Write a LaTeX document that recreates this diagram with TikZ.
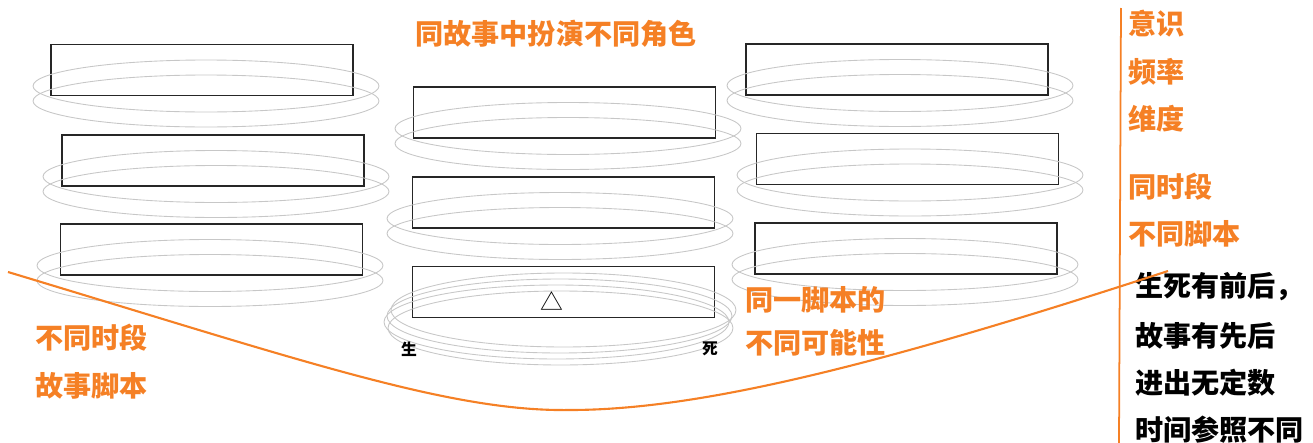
\documentclass[tikz,border=0pt]{standalone}
\usepackage{fontspec}
\usetikzlibrary{calc}
\newfontfamily\cjk{Noto Sans CJK SC}
\definecolor{tale}{RGB}{245,128,37}
\begin{document}
\begin{tikzpicture}[x=0.02cm,y=-0.02cm,
  box/.style={draw=black!85,line width=0.7pt,minimum width=6.04cm,minimum height=1.02cm,inner sep=0pt},
  ring/.style={draw=black!22,line width=0.5pt},
  tag/.style={font=\cjk\bfseries\fontsize{16}{19}\selectfont,text=tale,anchor=west,inner sep=0pt},
  note/.style={tag,text=black},
  end/.style={font=\cjk\bfseries\fontsize{9}{9}\selectfont,inner sep=0pt}]
\useasboundingbox (0,0) rectangle (1313,443);
% story boxes
\node[box] (left1) at (202,70) {};
\node[box] (left2) at (213,160.5) {};
\node[box] (left3) at (211.5,249.5) {};
\node[box] (mid1) at (564.5,112.5) {};
\node[box] (mid2) at (563.5,202.5) {};
\node[box] (mid3) at (563.5,292) {};
\node[box] (right1) at (897,69.5) {};
\node[box] (right2) at (907.5,159) {};
\node[box] (right3) at (906,248.5) {};
\foreach \b/\dx in {left1/4,left2/3,left3/-1.5,mid1/3.5,mid2/-3.5,right1/3,right2/2.5,right3/-1}{
  \draw[ring] ($(\b.center)+(\dx,16)$) ellipse [x radius=3.46cm,y radius=0.52cm];
  \draw[ring] ($(\b.center)+(\dx,31)$) ellipse [x radius=3.46cm,y radius=0.52cm];
}
\foreach \dx/\dy in {0/18,-4/24,-7/30,-3/36}
  \draw[ring] ($(mid3.center)+(\dx,\dy)$) ellipse [x radius=3.45cm,y radius=0.74cm];
\node[font=\cjk\fontsize{13}{13}\selectfont,inner sep=0pt] (mark) at (552,301) {△};
\node[end] (birth) at (409,349) {生};
\node[end] (death) at (710,349) {死};
% labels
\node[tag,anchor=center] (roles) at (556,34) {同故事中扮演不同角色};
\node[tag] (aware) at (1128,23.5) {意识};
\node[tag] (freq) at (1128,72) {频率};
\node[tag] (dim) at (1128,119) {维度};
\node[tag] (sameperiod) at (1128,187) {同时段};
\node[tag] (diffscript) at (1128,234) {不同脚本};
\node[tag] (diffperiod) at (35,338) {不同时段};
\node[tag] (storyscript) at (35,386) {故事脚本};
\node[tag] (onescript) at (745,300) {同一脚本的};
\node[tag] (possible) at (745,343) {不同可能性};
\node[note] (order1) at (1135,287) {生死有前后，};
\node[note] (order2) at (1135,336) {故事有先后};
\node[note] (order3) at (1135,383) {进出无定数};
\node[note] (order4) at (1135,430) {时间参照不同};
% time line
\coordinate (bartop) at (1121,8);
\coordinate (barbot) at (1119,443);
\draw[tale,line width=1pt] (bartop) -- (barbot);
\coordinate (c0) at (8,272);
\coordinate (c1) at (570,410);
\coordinate (c2) at (1168,271);
\draw[tale,line width=1.2pt] (c0) .. controls (300,360) and (450,412) .. (c1)
  .. controls (700,410) and (880,365) .. (c2);
\end{tikzpicture}
\end{document}
